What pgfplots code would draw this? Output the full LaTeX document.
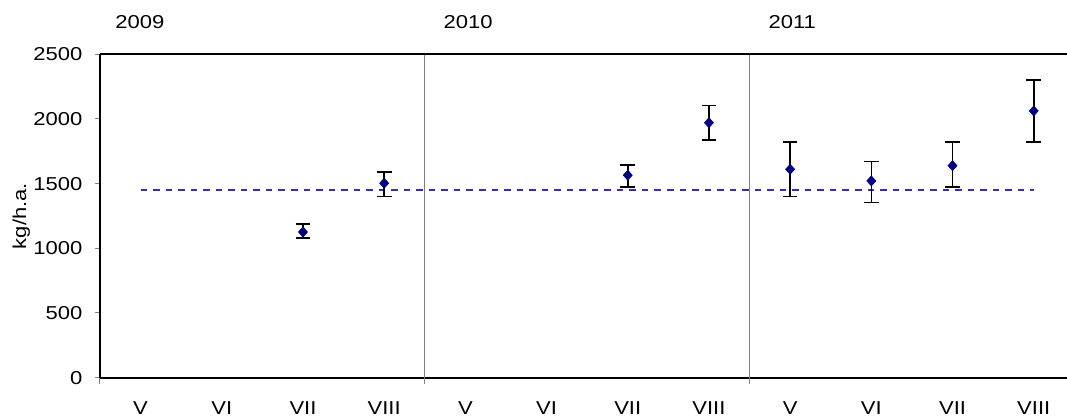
\documentclass[border=0pt]{standalone}
\usepackage{fontspec}
\setmainfont{Liberation Sans}[FakeStretch=1.18]
\usepackage{pgfplots}
\pgfplotsset{compat=1.18}
\definecolor{markblue}{HTML}{000080}
\definecolor{meanline}{HTML}{333399}
\definecolor{sepgray}{HTML}{808080}
\begin{document}
\begin{tikzpicture}
\useasboundingbox (-75pt,-31pt) rectangle (725.25pt,283.25pt);
\begin{axis}[
  at={(0,0)}, anchor=south west,
  scale only axis, width=725.25pt, height=242.55pt,
  xmin=-0.5, xmax=11.41, ymin=0, ymax=2500,
  clip=false,
  axis lines=left,
  axis line style={-, line width=1.5pt, black},
  font=\fontsize{14}{16}\selectfont,
  /pgf/number format/assume math mode=true,
  /pgf/number format/1000 sep={},
  xtick={0,...,11},
  xticklabels={V,VI,VII,VIII,V,VI,VII,VIII,V,VI,VII,VIII},
  x tick style={draw=none},
  xticklabel style={anchor=north, yshift=-11pt},
  ytick={0,500,...,2500},
  y tick style={draw=sepgray, line width=0.75pt},
  tick align=outside, major tick length=3.75pt,
  yticklabel style={anchor=east, xshift=-6pt},
  ylabel={kg/h.a.},
  ylabel style={at={(axis description cs:-0.0814,0.5)}, anchor=center},
]
% mean line
\addplot[meanline, line width=1.5pt, dash pattern=on 4.9pt off 4.5pt]
  coordinates {(0,1454) (11,1454)};
% observations with spread
\addplot[only marks, mark=diamond*, mark size=3.8pt,
  mark options={fill=markblue, draw=markblue, xscale=1.2},
  error bars/.cd, y dir=both, y explicit,
  error bar style={line width=1.2pt, black},
  error mark options={rotate=90, mark size=5.5pt, line width=1.2pt, black}]
  table[x=x, y=y, y error plus=ep, y error minus=em] {
x  y     ep   em
2  1126  62   44
3  1503  89   104
6  1565  77   91
7  1971  134  136
8  1611  213  212
9  1521  149  168
10 1639  185  165
11 2062  239  238
};
% year separators and frame top
\draw[sepgray, line width=0.75pt] (axis cs:3.5,2500) -- ([yshift=-4.5pt]axis cs:3.5,0);
\draw[sepgray, line width=0.75pt] (axis cs:7.5,2500) -- ([yshift=-4.5pt]axis cs:7.5,0);
\draw[sepgray, line width=0.75pt] (axis cs:-0.5,0) -- ([yshift=-4.5pt]axis cs:-0.5,0);
\draw[black, line width=1.5pt] (axis cs:-0.5,2500) -- (axis cs:11.41,2500);
\node[anchor=base west] at ([xshift=8pt,yshift=19.5pt]axis cs:-0.5,2500) {2009};
\node[anchor=base west] at ([xshift=10.7pt,yshift=19.5pt]axis cs:3.5,2500) {2010};
\node[anchor=base west] at ([xshift=10.7pt,yshift=19.5pt]axis cs:7.5,2500) {2011};
\end{axis}
\end{tikzpicture}
\end{document}
